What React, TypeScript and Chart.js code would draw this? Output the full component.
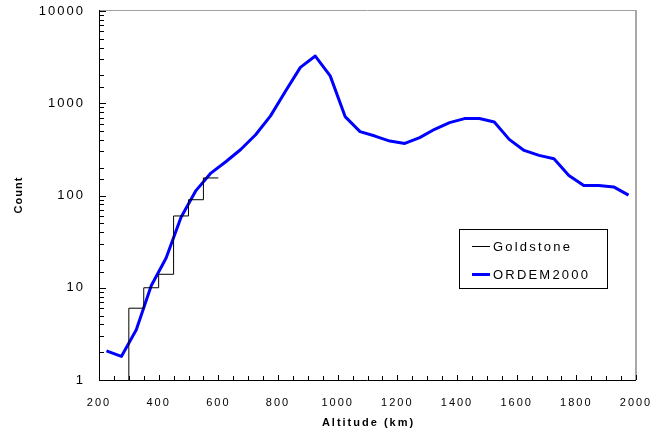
import React, { useEffect, useRef } from "react";
import { Chart, registerables } from "chart.js";

Chart.register(...registerables);

// ---- data ----
const ordemAltitudes = [
  225, 275, 325, 375, 425, 475, 525, 575, 625, 675, 725, 775, 825, 875, 925, 975,
  1025, 1075, 1125, 1175, 1225, 1275, 1325, 1375, 1425, 1475, 1525, 1575, 1625,
  1675, 1725, 1775, 1825, 1875, 1925, 1975,
];
const ordemCounts = [
  2.07, 1.8, 3.5, 10.5, 21, 58, 113, 175, 232, 315, 455, 730, 1350, 2450, 3250, 1980,
  717, 493, 441, 389, 367, 424, 522, 617, 682, 682, 626, 406, 308,
  272, 250, 165, 128, 128, 124, 101,
];
const goldstoneBinEdges = [300, 350, 400, 450, 500, 550, 600];
const goldstoneCounts = [6, 10, 14, 60, 90, 155];
const goldstoneBaseline = 1;

const xLabelValues = [200, 400, 600, 800, 1000, 1200, 1400, 1600, 1800, 2000];
const yLabelValues = [1, 10, 100, 1000, 10000];
const seriesNames = ["Goldstone", "ORDEM2000"];
const xTitle = "Altitude (km)";
const yTitle = "Count";

const FONT = "'Liberation Sans', Arial, Helvetica, sans-serif";

const decorPlugin = {
  id: "decor",
  beforeDraw(chart: any) {
    const ctx = chart.ctx;
    ctx.letterSpacing = "2px";
  },
  afterDatasetsDraw(chart: any) {
    const ctx = chart.ctx as CanvasRenderingContext2D;
    const { left, right, top, bottom } = chart.chartArea;
    const xs = chart.scales.x;
    const ys = chart.scales.y;
    ctx.save();
    // frame
    ctx.strokeStyle = "#a0a0a0";
    ctx.lineWidth = 1;
    ctx.beginPath();
    ctx.moveTo(left, top - 0.5);
    ctx.lineTo(right, top - 0.5);
    ctx.stroke();
    ctx.lineWidth = 2;
    ctx.strokeStyle = "#a8a8a8";
    ctx.beginPath();
    ctx.moveTo(right, top - 1);
    ctx.lineTo(right, bottom);
    ctx.stroke();
    ctx.strokeStyle = "#000";
    ctx.lineWidth = 1;
    ctx.beginPath();
    ctx.moveTo(left + 0.5, top - 1);
    ctx.lineTo(left + 0.5, bottom + 1);
    ctx.moveTo(left, bottom + 0.5);
    ctx.lineTo(right, bottom + 0.5);
    ctx.stroke();
    // inward ticks
    ctx.beginPath();
    for (const t of xs.ticks) {
      const px = Math.round(xs.getPixelForValue(t.value)) + 0.5;
      const major = xLabelValues.includes(t.value);
      const len = major ? 5 : 4;
      ctx.moveTo(px, bottom);
      ctx.lineTo(px, bottom - len);
    }
    for (const t of ys.ticks) {
      const py = Math.round(ys.getPixelForValue(t.value)) + 0.5;
      const major = yLabelValues.includes(t.value);
      const len = major ? 7 : 5;
      ctx.moveTo(left, py);
      ctx.lineTo(left + len, py);
    }
    ctx.stroke();
    ctx.restore();
  },
  afterDraw(chart: any) {
    const ctx = chart.ctx as CanvasRenderingContext2D;
    const { left, right, top, bottom } = chart.chartArea;
    ctx.save();
    ctx.fillStyle = "#000";
    // axis titles
    ctx.font = `bold 11px ${FONT}`;
    (ctx as any).letterSpacing = "2px";
    ctx.textAlign = "center";
    ctx.textBaseline = "middle";
    ctx.fillText(xTitle, (left + right) / 2 + 1, 423);
    ctx.save();
    ctx.translate(19, (top + bottom) / 2);
    ctx.rotate(-Math.PI / 2);
    (ctx as any).letterSpacing = "1px";
    ctx.fillText(yTitle, 0.5, 0);
    ctx.restore();
    // legend
    const bx = 459, by = 229, bw = 148, bh = 59;
    ctx.fillStyle = "#fff";
    ctx.fillRect(bx, by, bw, bh);
    ctx.strokeStyle = "#000";
    ctx.lineWidth = 1;
    ctx.strokeRect(bx + 0.5, by + 0.5, bw, bh);
    const rows = [246, 274];
    chart.data.datasets.forEach((ds: any, i: number) => {
      const y = rows[i];
      ctx.strokeStyle = ds.borderColor;
      ctx.lineWidth = ds.borderWidth;
      ctx.beginPath();
      const yy = ds.borderWidth % 2 === 1 ? y + 0.5 : y;
      ctx.moveTo(472, yy);
      ctx.lineTo(490, yy);
      ctx.stroke();
      ctx.fillStyle = "#000";
      ctx.font = `13px ${FONT}`;
      (ctx as any).letterSpacing = "2.2px";
      ctx.textAlign = "left";
      ctx.textBaseline = "middle";
      ctx.fillText(ds.label, 493, y + 1);
    });
    ctx.restore();
  },
};

export default function App() {
  const ref = useRef<HTMLCanvasElement | null>(null);
  useEffect(() => {
    if (!ref.current) return;
    const goldstoneData = [{ x: goldstoneBinEdges[0], y: goldstoneBaseline }].concat(
      goldstoneCounts.map((c, i) => ({ x: goldstoneBinEdges[i + 1], y: c }))
    );
    const ordemData = ordemAltitudes.map((a, i) => ({ x: a, y: ordemCounts[i] }));
    const chart = new Chart(ref.current, {
      type: "line",
      data: {
        datasets: [
          {
            label: seriesNames[0],
            data: goldstoneData,
            borderColor: "#000000",
            borderWidth: 1,
            stepped: "after",
            pointRadius: 0,
            fill: false,
          },
          {
            label: seriesNames[1],
            data: ordemData,
            borderColor: "#0000ff",
            borderWidth: 3,
            pointRadius: 0,
            tension: 0,
            fill: false,
            borderJoinStyle: "round",
          },
        ],
      },
      options: {
        responsive: false,
        animation: false,
        devicePixelRatio: 1,
        layout: { padding: { top: 11, right: 28, left: 0, bottom: 0 } },
        plugins: { legend: { display: false }, tooltip: { enabled: false } },
        scales: {
          x: {
            type: "linear",
            min: 200,
            max: 2000,
            grid: { display: false, drawTicks: false },
            border: { display: false },
            ticks: {
              stepSize: 50,
              autoSkip: false,
              maxRotation: 0,
              padding: 16,
              color: "#000",
              font: { family: FONT, size: 11 },
              callback: (v: any) => (xLabelValues.includes(Number(v)) ? String(v) : ""),
            },
            afterFit: (s: any) => {
              s.height = 56;
              s.paddingLeft = 0;
              s.paddingRight = 0;
            },
          },
          y: {
            type: "logarithmic",
            min: 1,
            max: 10000,
            grid: { display: false, drawTicks: false },
            border: { display: false },
            ticks: {
              autoSkip: false,
              padding: 14,
              color: "#000",
              font: { family: FONT, size: 13 },
              callback: (v: any) => (yLabelValues.includes(Number(v)) ? String(v) : ""),
            },
            afterFit: (s: any) => {
              s.width = 99;
              s.paddingTop = 0;
              s.paddingBottom = 0;
            },
          },
        },
      },
      plugins: [decorPlugin],
    } as any);
    return () => chart.destroy();
  }, []);
  return (
    <div style={{ position: "fixed", left: 0, top: 0, width: 664, height: 436, background: "#fff" }}>
      <canvas ref={ref} width={664} height={436} style={{ width: 664, height: 436 }} />
    </div>
  );
}
